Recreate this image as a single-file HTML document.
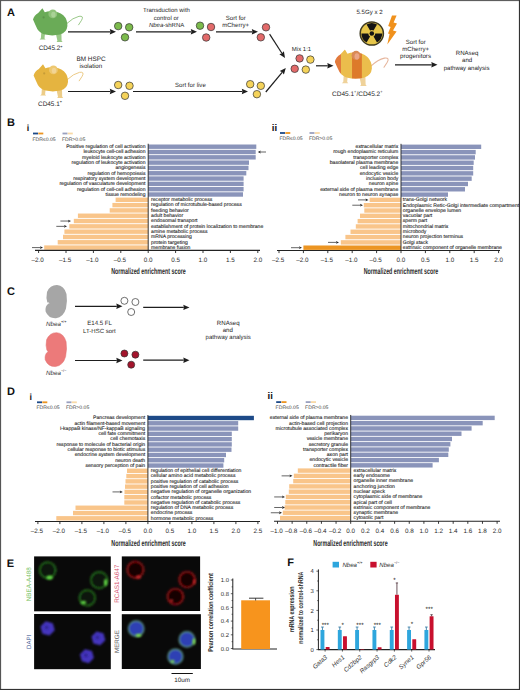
<!DOCTYPE html><html><head><meta charset="utf-8"><style>html,body{margin:0;padding:0;background:#fff;}svg{display:block;text-rendering:geometricPrecision;}</style></head><body><svg width="520" height="690" viewBox="0 0 520 690" font-family='"Liberation Sans", sans-serif'>
<rect x="0" y="0" width="520" height="690" fill="#fff"/>
<text x="7.00" y="16.30" font-size="11" text-anchor="start" fill="#111" font-weight="bold" font-style="normal" >A</text>
<g transform="translate(0,0) scale(1)">
<path d="M66.8,23.5 Q73,17.6 79,16.3 Q84.2,15.6 81.6,20.2 L78.6,24.8" fill="none" stroke="#9bc98a" stroke-width="1.0" stroke-linecap="round"/>
<path d="M41.3,32 L45,33 L44.5,38.4 L45.6,39.5 L39.6,39.5 L40.9,38.3 Z M55.8,33.6 L61.4,33 L61.6,40.8 L62.6,42.1 L56.6,42.1 L57.4,40.8 Z" fill="#99c886"/>
<path d="M33,19.6 Q34.2,15.2 38.2,13 L42.4,8.3 L44.8,12.3 Q48,10.9 51,11.2 Q58.5,11.2 63.3,15.2 Q67.7,19.5 67.4,26 Q66.8,32.6 60,34.6 Q52,36.2 45,34.6 Q40,33.2 37.4,29.2 Q35.4,25.2 33,19.6 Z" fill="#6aab57"/>
<circle cx="52.8" cy="13.9" r="4.4" fill="#8fc27a"/>
<ellipse cx="53.4" cy="14.6" rx="2.2" ry="2.9" fill="#a9d296"/>
<circle cx="43.6" cy="17.4" r="1.1" fill="#000" fill-opacity="0.13"/>
</g>
<g transform="translate(0.6,56) scale(1)">
<path d="M66.8,23.5 Q73,17.6 79,16.3 Q84.2,15.6 81.6,20.2 L78.6,24.8" fill="none" stroke="#ecca85" stroke-width="1.0" stroke-linecap="round"/>
<path d="M41.3,32 L45,33 L44.5,38.4 L45.6,39.5 L39.6,39.5 L40.9,38.3 Z M55.8,33.6 L61.4,33 L61.6,40.8 L62.6,42.1 L56.6,42.1 L57.4,40.8 Z" fill="#edcd88"/>
<path d="M33,19.6 Q34.2,15.2 38.2,13 L42.4,8.3 L44.8,12.3 Q48,10.9 51,11.2 Q58.5,11.2 63.3,15.2 Q67.7,19.5 67.4,26 Q66.8,32.6 60,34.6 Q52,36.2 45,34.6 Q40,33.2 37.4,29.2 Q35.4,25.2 33,19.6 Z" fill="#e5b440"/>
<circle cx="52.8" cy="13.9" r="4.4" fill="#eec870"/>
<ellipse cx="53.4" cy="14.6" rx="2.2" ry="2.9" fill="#f2d494"/>
<circle cx="43.6" cy="17.4" r="1.1" fill="#000" fill-opacity="0.13"/>
</g>
<text x="50.60" y="50.40" font-size="6.4" text-anchor="middle" fill="#2a2a2a" font-weight="normal" font-style="normal" >CD45.2<tspan font-size="3.8" dy="-2.8">+</tspan></text>
<text x="50.00" y="106.20" font-size="6.4" text-anchor="middle" fill="#2a2a2a" font-weight="normal" font-style="normal" >CD45.1<tspan font-size="3.8" dy="-2.8">+</tspan></text>
<text x="91.00" y="60.80" font-size="6.4" text-anchor="middle" fill="#262626" font-weight="normal" font-style="normal" >BM HSPC</text>
<text x="90.80" y="67.60" font-size="6.2" text-anchor="middle" fill="#262626" font-weight="normal" font-style="normal" >isolation</text>
<line x1="68.00" y1="31.80" x2="110.30" y2="31.80" stroke="#1e1e1e" stroke-width="1.2"/>
<polygon points="116.00,31.80 109.80,34.50 110.40,31.80 109.80,29.10" fill="#1e1e1e"/>
<line x1="68.00" y1="91.50" x2="110.30" y2="91.50" stroke="#1e1e1e" stroke-width="1.2"/>
<polygon points="116.00,91.50 109.80,94.20 110.40,91.50 109.80,88.80" fill="#1e1e1e"/>
<circle cx="118.20" cy="26.10" r="3.75" fill="#7cbb4c" stroke="#333" stroke-width="0.7"/>
<circle cx="129.20" cy="27.30" r="3.75" fill="#7cbb4c" stroke="#333" stroke-width="0.7"/>
<circle cx="125.00" cy="37.30" r="3.75" fill="#7cbb4c" stroke="#333" stroke-width="0.7"/>
<circle cx="118.20" cy="85.00" r="3.75" fill="#f5d35a" stroke="#333" stroke-width="0.7"/>
<circle cx="129.50" cy="85.80" r="3.75" fill="#f5d35a" stroke="#333" stroke-width="0.7"/>
<circle cx="125.00" cy="95.80" r="3.75" fill="#f5d35a" stroke="#333" stroke-width="0.7"/>
<text x="166.50" y="12.10" font-size="6" text-anchor="middle" fill="#262626" font-weight="normal" font-style="normal" >Transduction with</text>
<text x="166.30" y="19.60" font-size="6" text-anchor="middle" fill="#262626" font-weight="normal" font-style="normal" >control or</text>
<text x="166.60" y="26.60" font-size="6" text-anchor="middle" fill="#262626" font-weight="normal" font-style="normal" ><tspan font-style="italic">Nbea</tspan>-shRNA</text>
<line x1="136.00" y1="31.80" x2="191.30" y2="31.80" stroke="#1e1e1e" stroke-width="1.2"/>
<polygon points="197.00,31.80 190.80,34.50 191.40,31.80 190.80,29.10" fill="#1e1e1e"/>
<circle cx="200.00" cy="25.70" r="3.75" fill="#7cbb4c" stroke="#333" stroke-width="0.7"/>
<circle cx="211.00" cy="27.00" r="3.75" fill="#e26a6a" stroke="#333" stroke-width="0.7"/>
<circle cx="206.20" cy="37.50" r="3.75" fill="#e26a6a" stroke="#333" stroke-width="0.7"/>
<text x="235.80" y="19.60" font-size="6.1" text-anchor="middle" fill="#262626" font-weight="normal" font-style="normal" >Sort for</text>
<text x="235.60" y="26.60" font-size="6.1" text-anchor="middle" fill="#262626" font-weight="normal" font-style="normal" >mCherry+</text>
<line x1="216.00" y1="31.80" x2="252.30" y2="31.80" stroke="#1e1e1e" stroke-width="1.2"/>
<polygon points="258.00,31.80 251.80,34.50 252.40,31.80 251.80,29.10" fill="#1e1e1e"/>
<text x="190.40" y="86.80" font-size="6.1" text-anchor="middle" fill="#262626" font-weight="normal" font-style="normal" >Sort for live</text>
<line x1="133.00" y1="91.50" x2="242.30" y2="91.50" stroke="#1e1e1e" stroke-width="1.2"/>
<polygon points="248.00,91.50 241.80,94.20 242.40,91.50 241.80,88.80" fill="#1e1e1e"/>
<circle cx="250.20" cy="84.20" r="3.75" fill="#f5d35a" stroke="#333" stroke-width="0.7"/>
<circle cx="260.80" cy="85.80" r="3.75" fill="#f5d35a" stroke="#333" stroke-width="0.7"/>
<circle cx="256.90" cy="94.20" r="3.75" fill="#f5d35a" stroke="#333" stroke-width="0.7"/>
<circle cx="266.00" cy="27.30" r="3.75" fill="#e26a6a" stroke="#333" stroke-width="0.7"/>
<circle cx="260.80" cy="37.30" r="3.75" fill="#e26a6a" stroke="#333" stroke-width="0.7"/>
<line x1="269.60" y1="34.20" x2="281.90" y2="53.21" stroke="#1e1e1e" stroke-width="1.2"/>
<polygon points="285.00,58.00 279.37,54.26 281.96,53.30 283.90,51.33" fill="#1e1e1e"/>
<line x1="265.80" y1="92.00" x2="282.15" y2="72.38" stroke="#1e1e1e" stroke-width="1.2"/>
<polygon points="285.80,68.00 283.91,74.49 282.21,72.30 279.76,71.03" fill="#1e1e1e"/>
<text x="301.50" y="50.90" font-size="6" text-anchor="middle" fill="#262626" font-weight="normal" font-style="normal" >Mix 1:1</text>
<circle cx="299.60" cy="58.40" r="3.75" fill="#e26a6a" stroke="#333" stroke-width="0.7"/>
<circle cx="310.40" cy="59.60" r="3.75" fill="#f5d35a" stroke="#333" stroke-width="0.7"/>
<circle cx="294.70" cy="68.80" r="3.75" fill="#e26a6a" stroke="#333" stroke-width="0.7"/>
<circle cx="305.80" cy="69.60" r="3.75" fill="#f5d35a" stroke="#333" stroke-width="0.7"/>
<line x1="316.00" y1="65.80" x2="327.80" y2="65.80" stroke="#1e1e1e" stroke-width="1.2"/>
<polygon points="333.50,65.80 327.30,68.50 327.90,65.80 327.30,63.10" fill="#1e1e1e"/>
<defs><clipPath id="mc"><path d="M33,19.6 Q34.2,15.2 38.2,13 L42.4,8.3 L44.8,12.3 Q48,10.9 51,11.2 Q58.5,11.2 63.3,15.2 Q67.7,19.5 67.4,26 Q66.8,32.6 60,34.6 Q52,36.2 45,34.6 Q40,33.2 37.4,29.2 Q35.4,25.2 33,19.6 Z"/></clipPath></defs>
<g transform="translate(299.1,40.5) scale(1.08)">
<path d="M66.8,23.5 Q73,17.6 79,16.3 Q84.2,15.6 81.6,20.2 L78.6,24.8" fill="none" stroke="#e6b59c" stroke-width="1.0" stroke-linecap="round"/>
<path d="M41.3,32 L45,33 L44.5,38.4 L45.6,39.5 L39.6,39.5 L40.9,38.3 Z M55.8,33.6 L61.4,33 L61.6,40.8 L62.6,42.1 L56.6,42.1 L57.4,40.8 Z" fill="#efd29a"/>
<g clip-path="url(#mc)">
<rect x="30" y="0" width="9" height="50" fill="#e27a3c"/>
<rect x="38.8" y="0" width="10.4" height="50" fill="#ebbd4c"/>
<rect x="49" y="0" width="9.2" height="50" fill="#dd7a2a"/>
<rect x="58.2" y="0" width="12" height="50" fill="#ebbd4c"/>
</g>
<circle cx="52.8" cy="13.8" r="4.2" fill="#d98a55"/>
<ellipse cx="53.5" cy="14.8" rx="2.2" ry="2.9" fill="#eba585"/>
</g>
<text x="357.30" y="96.10" font-size="6.5" text-anchor="middle" fill="#2a2a2a" font-weight="normal" font-style="normal" >CD45.1<tspan font-size="3.9" dy="-2.9">+</tspan><tspan dy="2.9">/CD45.2</tspan><tspan font-size="3.9" dy="-2.9">+</tspan></text>
<text x="369.50" y="13.70" font-size="6.1" text-anchor="middle" fill="#262626" font-weight="normal" font-style="normal" >5.5Gy x 2</text>
<circle cx="371.8" cy="33.5" r="11.6" fill="#e6c64a" stroke="#3f3b22" stroke-width="1.5"/>
<path d="M370.05,30.47 L366.60,24.49 A10.4,10.4 0 0 1 377.00,24.49 L373.55,30.47 A3.5,3.5 0 0 0 370.05,30.47 Z" fill="#141414"/>
<path d="M375.30,33.50 L382.20,33.50 A10.4,10.4 0 0 1 377.00,42.51 L373.55,36.53 A3.5,3.5 0 0 0 375.30,33.50 Z" fill="#141414"/>
<path d="M370.05,36.53 L366.60,42.51 A10.4,10.4 0 0 1 361.40,33.50 L368.30,33.50 A3.5,3.5 0 0 0 370.05,36.53 Z" fill="#141414"/>
<circle cx="371.8" cy="33.5" r="2.3" fill="#141414"/>
<path d="M392,15.5 L396.6,15.5 L393.6,22.6 L397,23.6 L393,30.4 L396.6,31.4 L387.3,44.6 L389.6,34 L388,33.4 L390.6,27 L388.2,26 Z" fill="#f0911c"/>
<text x="415.70" y="43.70" font-size="6.1" text-anchor="middle" fill="#262626" font-weight="normal" font-style="normal" >Sort for</text>
<text x="415.70" y="51.00" font-size="6.1" text-anchor="middle" fill="#262626" font-weight="normal" font-style="normal" >mCherry+</text>
<text x="415.50" y="58.20" font-size="6.2" text-anchor="middle" fill="#262626" font-weight="normal" font-style="normal" >progenitors</text>
<line x1="395.00" y1="64.80" x2="431.80" y2="64.80" stroke="#1e1e1e" stroke-width="1.2"/>
<polygon points="437.50,64.80 431.30,67.50 431.90,64.80 431.30,62.10" fill="#1e1e1e"/>
<text x="467.10" y="55.20" font-size="6.1" text-anchor="middle" fill="#262626" font-weight="normal" font-style="normal" >RNAseq</text>
<text x="467.10" y="61.90" font-size="6.1" text-anchor="middle" fill="#262626" font-weight="normal" font-style="normal" >and</text>
<text x="466.60" y="69.60" font-size="6.0" text-anchor="middle" fill="#262626" font-weight="normal" font-style="normal" >pathway analysis</text>
<text x="7.00" y="125.90" font-size="11" text-anchor="start" fill="#111" font-weight="bold" font-style="normal" >B</text>
<text x="26.80" y="130.50" font-size="9" text-anchor="start" fill="#111" font-weight="bold" font-style="normal" >i</text>
<text x="271.80" y="130.50" font-size="9.6" text-anchor="start" fill="#111" font-weight="bold" font-style="normal" >ii</text>
<rect x="33" y="132.6" width="5" height="1.8" fill="#1d4a88"/>
<rect x="38.3" y="132.6" width="5" height="1.8" fill="#ec9522"/>
<text x="32.40" y="140.60" font-size="5.1" text-anchor="start" fill="#444" font-weight="normal" font-style="normal" >FDR≤0.05</text>
<rect x="62.5" y="132.6" width="5" height="1.8" fill="#9aa0bf"/>
<rect x="67.8" y="132.6" width="5" height="1.8" fill="#f8d9a7"/>
<text x="61.90" y="140.60" font-size="5.1" text-anchor="start" fill="#444" font-weight="normal" font-style="normal" >FDR&gt;0.05</text>
<rect x="280" y="132.1" width="5" height="1.8" fill="#1d4a88"/>
<rect x="285.3" y="132.1" width="5" height="1.8" fill="#ec9522"/>
<text x="279.40" y="140.10" font-size="5.1" text-anchor="start" fill="#444" font-weight="normal" font-style="normal" >FDR≤0.05</text>
<rect x="309.5" y="132.1" width="5" height="1.8" fill="#9aa0bf"/>
<rect x="314.8" y="132.1" width="5" height="1.8" fill="#f8d9a7"/>
<text x="308.90" y="140.10" font-size="5.1" text-anchor="start" fill="#444" font-weight="normal" font-style="normal" >FDR&gt;0.05</text>
<rect x="148.20" y="144.50" width="108.10" height="4.4" fill="#8a94ba"/>
<text x="145.50" y="148.05" font-size="5.1" text-anchor="end" fill="#1e1e1e" font-weight="normal" font-style="normal" stroke="#1e1e1e" stroke-width="0.1">Positive regulation of cell activation</text>
<rect x="148.20" y="149.81" width="107.50" height="4.4" fill="#8a94ba"/>
<text x="145.50" y="153.36" font-size="5.1" text-anchor="end" fill="#1e1e1e" font-weight="normal" font-style="normal" stroke="#1e1e1e" stroke-width="0.1">leukocyte cell-cell adhesion</text>
<rect x="148.20" y="155.12" width="107.50" height="4.4" fill="#8a94ba"/>
<text x="145.50" y="158.67" font-size="5.1" text-anchor="end" fill="#1e1e1e" font-weight="normal" font-style="normal" stroke="#1e1e1e" stroke-width="0.1">myeloid leukocyte activation</text>
<rect x="148.20" y="160.43" width="100.80" height="4.4" fill="#8a94ba"/>
<text x="145.50" y="163.98" font-size="5.1" text-anchor="end" fill="#1e1e1e" font-weight="normal" font-style="normal" stroke="#1e1e1e" stroke-width="0.1">regulation of leukocyte activation</text>
<rect x="148.20" y="165.74" width="100.30" height="4.4" fill="#8a94ba"/>
<text x="145.50" y="169.29" font-size="5.1" text-anchor="end" fill="#1e1e1e" font-weight="normal" font-style="normal" stroke="#1e1e1e" stroke-width="0.1">angiogenesis</text>
<rect x="148.20" y="171.05" width="98.10" height="4.4" fill="#8a94ba"/>
<text x="145.50" y="174.60" font-size="5.1" text-anchor="end" fill="#1e1e1e" font-weight="normal" font-style="normal" stroke="#1e1e1e" stroke-width="0.1">regulation of hemopoiesis</text>
<rect x="148.20" y="176.36" width="95.40" height="4.4" fill="#8a94ba"/>
<text x="145.50" y="179.91" font-size="5.1" text-anchor="end" fill="#1e1e1e" font-weight="normal" font-style="normal" stroke="#1e1e1e" stroke-width="0.1">respiratory system development</text>
<rect x="148.20" y="181.67" width="95.40" height="4.4" fill="#8a94ba"/>
<text x="145.50" y="185.22" font-size="5.1" text-anchor="end" fill="#1e1e1e" font-weight="normal" font-style="normal" stroke="#1e1e1e" stroke-width="0.1">regulation of vasculature development</text>
<rect x="148.20" y="186.98" width="95.40" height="4.4" fill="#8a94ba"/>
<text x="145.50" y="190.53" font-size="5.1" text-anchor="end" fill="#1e1e1e" font-weight="normal" font-style="normal" stroke="#1e1e1e" stroke-width="0.1">regulation of cell-cell adhesion</text>
<rect x="148.20" y="192.29" width="94.80" height="4.4" fill="#8a94ba"/>
<text x="145.50" y="195.84" font-size="5.1" text-anchor="end" fill="#1e1e1e" font-weight="normal" font-style="normal" stroke="#1e1e1e" stroke-width="0.1">tissue remodeling</text>
<rect x="115.60" y="197.60" width="32.60" height="4.4" fill="#f9c58a"/>
<text x="151.10" y="201.15" font-size="5.1" text-anchor="start" fill="#1e1e1e" font-weight="normal" font-style="normal" stroke="#1e1e1e" stroke-width="0.1">receptor metabolic process</text>
<rect x="112.40" y="202.91" width="35.80" height="4.4" fill="#f9c58a"/>
<text x="151.10" y="206.46" font-size="5.1" text-anchor="start" fill="#1e1e1e" font-weight="normal" font-style="normal" stroke="#1e1e1e" stroke-width="0.1">regulation of microtubule-based process</text>
<rect x="109.70" y="208.22" width="38.50" height="4.4" fill="#f9c58a"/>
<text x="151.10" y="211.77" font-size="5.1" text-anchor="start" fill="#1e1e1e" font-weight="normal" font-style="normal" stroke="#1e1e1e" stroke-width="0.1">feeding behavior</text>
<rect x="77.90" y="213.53" width="70.30" height="4.4" fill="#f9c58a"/>
<text x="151.10" y="217.08" font-size="5.1" text-anchor="start" fill="#1e1e1e" font-weight="normal" font-style="normal" stroke="#1e1e1e" stroke-width="0.1">adult behavior</text>
<rect x="73.80" y="218.84" width="74.40" height="4.4" fill="#f9c58a"/>
<text x="151.10" y="222.39" font-size="5.1" text-anchor="start" fill="#1e1e1e" font-weight="normal" font-style="normal" stroke="#1e1e1e" stroke-width="0.1">endosomal transport</text>
<rect x="69.30" y="224.15" width="78.90" height="4.4" fill="#f9c58a"/>
<text x="151.10" y="227.70" font-size="5.1" text-anchor="start" fill="#1e1e1e" font-weight="normal" font-style="normal" stroke="#1e1e1e" stroke-width="0.1">establishment of protein localization to membrane</text>
<rect x="64.40" y="229.46" width="83.80" height="4.4" fill="#f9c58a"/>
<text x="151.10" y="233.01" font-size="5.1" text-anchor="start" fill="#1e1e1e" font-weight="normal" font-style="normal" stroke="#1e1e1e" stroke-width="0.1">amine metabolic process</text>
<rect x="63.00" y="234.77" width="85.20" height="4.4" fill="#f9c58a"/>
<text x="151.10" y="238.32" font-size="5.1" text-anchor="start" fill="#1e1e1e" font-weight="normal" font-style="normal" stroke="#1e1e1e" stroke-width="0.1">mRNA processing</text>
<rect x="57.70" y="240.08" width="90.50" height="4.4" fill="#f9c58a"/>
<text x="151.10" y="243.63" font-size="5.1" text-anchor="start" fill="#1e1e1e" font-weight="normal" font-style="normal" stroke="#1e1e1e" stroke-width="0.1">protein targeting</text>
<rect x="44.20" y="245.39" width="104.00" height="4.4" fill="#f9c58a"/>
<text x="151.10" y="248.94" font-size="5.1" text-anchor="start" fill="#1e1e1e" font-weight="normal" font-style="normal" stroke="#1e1e1e" stroke-width="0.1">membrane fusion</text>
<line x1="148.2" y1="143.74" x2="148.2" y2="250.4" stroke="#2a2a2a" stroke-width="0.95"/>
<line x1="35" y1="250.4" x2="260" y2="250.4" stroke="#222" stroke-width="1.1"/>
<line x1="38.60" y1="250.4" x2="38.60" y2="253.0" stroke="#222" stroke-width="0.9"/>
<text x="43.80" y="261.70" font-size="6.3" text-anchor="end" fill="#2a2a2a" font-weight="normal" font-style="normal" >–2.0</text>
<line x1="66.00" y1="250.4" x2="66.00" y2="253.0" stroke="#222" stroke-width="0.9"/>
<text x="71.20" y="261.70" font-size="6.3" text-anchor="end" fill="#2a2a2a" font-weight="normal" font-style="normal" >–1.5</text>
<line x1="93.40" y1="250.4" x2="93.40" y2="253.0" stroke="#222" stroke-width="0.9"/>
<text x="98.60" y="261.70" font-size="6.3" text-anchor="end" fill="#2a2a2a" font-weight="normal" font-style="normal" >–1.0</text>
<line x1="120.80" y1="250.4" x2="120.80" y2="253.0" stroke="#222" stroke-width="0.9"/>
<text x="126.00" y="261.70" font-size="6.3" text-anchor="end" fill="#2a2a2a" font-weight="normal" font-style="normal" >–0.5</text>
<line x1="148.20" y1="250.4" x2="148.20" y2="253.0" stroke="#222" stroke-width="0.9"/>
<text x="148.20" y="261.70" font-size="6.3" text-anchor="middle" fill="#2a2a2a" font-weight="normal" font-style="normal" >0.0</text>
<line x1="175.60" y1="250.4" x2="175.60" y2="253.0" stroke="#222" stroke-width="0.9"/>
<text x="175.60" y="261.70" font-size="6.3" text-anchor="middle" fill="#2a2a2a" font-weight="normal" font-style="normal" >0.5</text>
<line x1="203.00" y1="250.4" x2="203.00" y2="253.0" stroke="#222" stroke-width="0.9"/>
<text x="203.00" y="261.70" font-size="6.3" text-anchor="middle" fill="#2a2a2a" font-weight="normal" font-style="normal" >1.0</text>
<line x1="230.40" y1="250.4" x2="230.40" y2="253.0" stroke="#222" stroke-width="0.9"/>
<text x="230.40" y="261.70" font-size="6.3" text-anchor="middle" fill="#2a2a2a" font-weight="normal" font-style="normal" >1.5</text>
<line x1="257.80" y1="250.4" x2="257.80" y2="253.0" stroke="#222" stroke-width="0.9"/>
<text x="257.80" y="261.70" font-size="6.3" text-anchor="middle" fill="#2a2a2a" font-weight="normal" font-style="normal" >2.0</text>
<line x1="60.40" y1="221.04" x2="68.50" y2="221.04" stroke="#222" stroke-width="0.7"/>
<polygon points="71.00,221.04 68.00,222.44 68.60,221.04 68.00,219.64" fill="#222"/>
<line x1="56.30" y1="226.35" x2="64.50" y2="226.35" stroke="#222" stroke-width="0.7"/>
<polygon points="67.00,226.35 64.00,227.75 64.60,226.35 64.00,224.95" fill="#222"/>
<line x1="32.00" y1="247.59" x2="40.50" y2="247.59" stroke="#222" stroke-width="0.7"/>
<polygon points="43.00,247.59 40.00,248.99 40.60,247.59 40.00,246.19" fill="#222"/>
<text x="111.20" y="274.00" font-size="8.6" text-anchor="start" fill="#2a2a2a" font-weight="bold" font-style="normal" textLength="74.5" lengthAdjust="spacingAndGlyphs">Normalized enrichment score</text>
<line x1="266.00" y1="152.00" x2="260.30" y2="152.00" stroke="#222" stroke-width="0.7"/>
<polygon points="257.80,152.00 260.80,150.60 260.20,152.00 260.80,153.40" fill="#222"/>
<rect x="401.00" y="144.60" width="80.20" height="4.4" fill="#8a94ba"/>
<text x="398.30" y="148.15" font-size="5.1" text-anchor="end" fill="#1e1e1e" font-weight="normal" font-style="normal" stroke="#1e1e1e" stroke-width="0.1">extracellular matrix</text>
<rect x="401.00" y="149.91" width="74.70" height="4.4" fill="#8a94ba"/>
<text x="398.30" y="153.46" font-size="5.1" text-anchor="end" fill="#1e1e1e" font-weight="normal" font-style="normal" stroke="#1e1e1e" stroke-width="0.1">rough endoplasmic reticulum</text>
<rect x="401.00" y="155.22" width="74.00" height="4.4" fill="#8a94ba"/>
<text x="398.30" y="158.77" font-size="5.1" text-anchor="end" fill="#1e1e1e" font-weight="normal" font-style="normal" stroke="#1e1e1e" stroke-width="0.1">transporter complex</text>
<rect x="401.00" y="160.53" width="72.70" height="4.4" fill="#8a94ba"/>
<text x="398.30" y="164.08" font-size="5.1" text-anchor="end" fill="#1e1e1e" font-weight="normal" font-style="normal" stroke="#1e1e1e" stroke-width="0.1">basolateral plasma membrane</text>
<rect x="401.00" y="165.84" width="72.20" height="4.4" fill="#8a94ba"/>
<text x="398.30" y="169.39" font-size="5.1" text-anchor="end" fill="#1e1e1e" font-weight="normal" font-style="normal" stroke="#1e1e1e" stroke-width="0.1">cell leading edge</text>
<rect x="401.00" y="171.15" width="72.20" height="4.4" fill="#8a94ba"/>
<text x="398.30" y="174.70" font-size="5.1" text-anchor="end" fill="#1e1e1e" font-weight="normal" font-style="normal" stroke="#1e1e1e" stroke-width="0.1">endocytic vesicle</text>
<rect x="401.00" y="176.46" width="70.70" height="4.4" fill="#8a94ba"/>
<text x="398.30" y="180.01" font-size="5.1" text-anchor="end" fill="#1e1e1e" font-weight="normal" font-style="normal" stroke="#1e1e1e" stroke-width="0.1">inclusion body</text>
<rect x="401.00" y="181.77" width="67.00" height="4.4" fill="#8a94ba"/>
<text x="398.30" y="185.32" font-size="5.1" text-anchor="end" fill="#1e1e1e" font-weight="normal" font-style="normal" stroke="#1e1e1e" stroke-width="0.1">neuron spine</text>
<rect x="401.00" y="187.08" width="64.00" height="4.4" fill="#8a94ba"/>
<text x="398.30" y="190.63" font-size="5.1" text-anchor="end" fill="#1e1e1e" font-weight="normal" font-style="normal" stroke="#1e1e1e" stroke-width="0.1">external side of plasma membrane</text>
<rect x="401.00" y="192.39" width="47.00" height="4.4" fill="#8a94ba"/>
<text x="398.30" y="195.94" font-size="5.1" text-anchor="end" fill="#1e1e1e" font-weight="normal" font-style="normal" stroke="#1e1e1e" stroke-width="0.1">neuron to neuron synapse</text>
<rect x="369.60" y="197.70" width="31.40" height="4.4" fill="#f9c58a"/>
<text x="402.80" y="201.25" font-size="5.1" text-anchor="start" fill="#1e1e1e" font-weight="normal" font-style="normal" stroke="#1e1e1e" stroke-width="0.1">trans-Golgi network</text>
<rect x="363.80" y="203.01" width="37.20" height="4.4" fill="#f9c58a"/>
<text x="402.80" y="206.56" font-size="5.1" text-anchor="start" fill="#1e1e1e" font-weight="normal" font-style="normal" stroke="#1e1e1e" stroke-width="0.1">Endoplasmic Retic-Golgi intermediate compartment</text>
<rect x="364.30" y="208.32" width="36.70" height="4.4" fill="#f9c58a"/>
<text x="402.80" y="211.87" font-size="5.1" text-anchor="start" fill="#1e1e1e" font-weight="normal" font-style="normal" stroke="#1e1e1e" stroke-width="0.1">organelle envelope lumen</text>
<rect x="360.00" y="213.63" width="41.00" height="4.4" fill="#f9c58a"/>
<text x="402.80" y="217.18" font-size="5.1" text-anchor="start" fill="#1e1e1e" font-weight="normal" font-style="normal" stroke="#1e1e1e" stroke-width="0.1">vacuolar part</text>
<rect x="357.60" y="218.94" width="43.40" height="4.4" fill="#f9c58a"/>
<text x="402.80" y="222.49" font-size="5.1" text-anchor="start" fill="#1e1e1e" font-weight="normal" font-style="normal" stroke="#1e1e1e" stroke-width="0.1">sperm part</text>
<rect x="355.80" y="224.25" width="45.20" height="4.4" fill="#f9c58a"/>
<text x="402.80" y="227.80" font-size="5.1" text-anchor="start" fill="#1e1e1e" font-weight="normal" font-style="normal" stroke="#1e1e1e" stroke-width="0.1">mitochondrial matrix</text>
<rect x="350.50" y="229.56" width="50.50" height="4.4" fill="#f9c58a"/>
<text x="402.80" y="233.11" font-size="5.1" text-anchor="start" fill="#1e1e1e" font-weight="normal" font-style="normal" stroke="#1e1e1e" stroke-width="0.1">microbody</text>
<rect x="345.40" y="234.87" width="55.60" height="4.4" fill="#f9c58a"/>
<text x="402.80" y="238.42" font-size="5.1" text-anchor="start" fill="#1e1e1e" font-weight="normal" font-style="normal" stroke="#1e1e1e" stroke-width="0.1">neuron projection terminus</text>
<rect x="340.80" y="240.18" width="60.20" height="4.4" fill="#f9c58a"/>
<text x="402.80" y="243.73" font-size="5.1" text-anchor="start" fill="#1e1e1e" font-weight="normal" font-style="normal" stroke="#1e1e1e" stroke-width="0.1">Golgi stack</text>
<rect x="303.40" y="245.49" width="97.60" height="4.4" fill="#ec9522"/>
<text x="402.80" y="249.04" font-size="5.1" text-anchor="start" fill="#1e1e1e" font-weight="normal" font-style="normal" stroke="#1e1e1e" stroke-width="0.1">extrinsic component of organelle membrane</text>
<line x1="401.0" y1="143.84" x2="401.0" y2="250.5" stroke="#2a2a2a" stroke-width="0.95"/>
<line x1="277" y1="250.5" x2="500" y2="250.5" stroke="#222" stroke-width="1.1"/>
<line x1="279.00" y1="250.5" x2="279.00" y2="253.1" stroke="#222" stroke-width="0.9"/>
<text x="284.20" y="261.70" font-size="6.3" text-anchor="end" fill="#2a2a2a" font-weight="normal" font-style="normal" >–2.5</text>
<line x1="303.40" y1="250.5" x2="303.40" y2="253.1" stroke="#222" stroke-width="0.9"/>
<text x="308.60" y="261.70" font-size="6.3" text-anchor="end" fill="#2a2a2a" font-weight="normal" font-style="normal" >–2.0</text>
<line x1="327.80" y1="250.5" x2="327.80" y2="253.1" stroke="#222" stroke-width="0.9"/>
<text x="333.00" y="261.70" font-size="6.3" text-anchor="end" fill="#2a2a2a" font-weight="normal" font-style="normal" >–1.5</text>
<line x1="352.20" y1="250.5" x2="352.20" y2="253.1" stroke="#222" stroke-width="0.9"/>
<text x="357.40" y="261.70" font-size="6.3" text-anchor="end" fill="#2a2a2a" font-weight="normal" font-style="normal" >–1.0</text>
<line x1="376.60" y1="250.5" x2="376.60" y2="253.1" stroke="#222" stroke-width="0.9"/>
<text x="381.80" y="261.70" font-size="6.3" text-anchor="end" fill="#2a2a2a" font-weight="normal" font-style="normal" >–0.5</text>
<line x1="401.00" y1="250.5" x2="401.00" y2="253.1" stroke="#222" stroke-width="0.9"/>
<text x="401.00" y="261.70" font-size="6.3" text-anchor="middle" fill="#2a2a2a" font-weight="normal" font-style="normal" >0.0</text>
<line x1="425.40" y1="250.5" x2="425.40" y2="253.1" stroke="#222" stroke-width="0.9"/>
<text x="425.40" y="261.70" font-size="6.3" text-anchor="middle" fill="#2a2a2a" font-weight="normal" font-style="normal" >0.5</text>
<line x1="449.80" y1="250.5" x2="449.80" y2="253.1" stroke="#222" stroke-width="0.9"/>
<text x="449.80" y="261.70" font-size="6.3" text-anchor="middle" fill="#2a2a2a" font-weight="normal" font-style="normal" >1.0</text>
<line x1="474.20" y1="250.5" x2="474.20" y2="253.1" stroke="#222" stroke-width="0.9"/>
<text x="474.20" y="261.70" font-size="6.3" text-anchor="middle" fill="#2a2a2a" font-weight="normal" font-style="normal" >1.5</text>
<line x1="498.60" y1="250.5" x2="498.60" y2="253.1" stroke="#222" stroke-width="0.9"/>
<text x="498.60" y="261.70" font-size="6.3" text-anchor="middle" fill="#2a2a2a" font-weight="normal" font-style="normal" >2.0</text>
<line x1="358.00" y1="199.90" x2="366.00" y2="199.90" stroke="#222" stroke-width="0.7"/>
<polygon points="368.50,199.90 365.50,201.30 366.10,199.90 365.50,198.50" fill="#222"/>
<line x1="352.30" y1="205.21" x2="360.50" y2="205.21" stroke="#222" stroke-width="0.7"/>
<polygon points="363.00,205.21 360.00,206.61 360.60,205.21 360.00,203.81" fill="#222"/>
<line x1="328.00" y1="242.38" x2="336.50" y2="242.38" stroke="#222" stroke-width="0.7"/>
<polygon points="339.00,242.38 336.00,243.78 336.60,242.38 336.00,240.98" fill="#222"/>
<line x1="291.00" y1="247.69" x2="299.50" y2="247.69" stroke="#222" stroke-width="0.7"/>
<polygon points="302.00,247.69 299.00,249.09 299.60,247.69 299.00,246.29" fill="#222"/>
<text x="363.70" y="274.00" font-size="8.6" text-anchor="start" fill="#2a2a2a" font-weight="bold" font-style="normal" textLength="74.5" lengthAdjust="spacingAndGlyphs">Normalized enrichment score</text>
<text x="7.00" y="295.00" font-size="11" text-anchor="start" fill="#111" font-weight="bold" font-style="normal" >C</text>
<path d="M47,292 Q50,285 57,285.1 Q64,285.5 66.5,294 Q67.6,301 66,308.5 Q63.5,317.3 56,318.2 Q48.5,318.6 45.6,311.5 Q44.8,306 48.6,303.4 L47.3,302.3 Q45.8,298 47,292 Z" fill="#a6a6a6"/>
<path d="M47.8,302.6 L49.2,303.3" stroke="#fff" stroke-width="0.9"/>
<g transform="translate(-0.4,40.7) scale(1.0,1.024)"><path d="M47,292 Q50,285 57,285.1 Q64,285.5 66.5,294 Q67.6,301 66,308.5 Q63.5,317.3 56,318.2 Q48.5,318.6 45.6,311.5 Q44.8,306 48.6,303.4 L47.3,302.3 Q45.8,298 47,292 Z" fill="#ec7a7a" stroke="#e26c6c" stroke-width="0.5"/></g>
<text x="46.10" y="325.80" font-size="6.2" text-anchor="start" fill="#333" font-weight="normal" font-style="normal" ><tspan font-style="italic">Nbea</tspan><tspan font-size="3.8" dy="-3">+/+</tspan></text>
<text x="46.10" y="374.80" font-size="6.2" text-anchor="start" fill="#333" font-weight="normal" font-style="normal" ><tspan font-style="italic">Nbea</tspan><tspan font-size="3.8" dy="-3">−/−</tspan></text>
<line x1="75.00" y1="306.30" x2="116.80" y2="306.30" stroke="#1e1e1e" stroke-width="1.2"/>
<polygon points="122.50,306.30 116.30,309.00 116.90,306.30 116.30,303.60" fill="#1e1e1e"/>
<line x1="75.00" y1="360.50" x2="116.80" y2="360.50" stroke="#1e1e1e" stroke-width="1.2"/>
<polygon points="122.50,360.50 116.30,363.20 116.90,360.50 116.30,357.80" fill="#1e1e1e"/>
<text x="99.60" y="325.30" font-size="6.1" text-anchor="middle" fill="#262626" font-weight="normal" font-style="normal" >E14.5 FL</text>
<text x="99.40" y="332.50" font-size="6.0" text-anchor="middle" fill="#262626" font-weight="normal" font-style="normal" >LT-HSC sort</text>
<circle cx="124.40" cy="300.80" r="3.5" fill="#fff" stroke="#333" stroke-width="0.7"/>
<circle cx="135.40" cy="302.00" r="3.5" fill="#fff" stroke="#333" stroke-width="0.7"/>
<circle cx="131.20" cy="312.00" r="3.5" fill="#fff" stroke="#333" stroke-width="0.7"/>
<circle cx="124.40" cy="353.50" r="3.5" fill="#a3142c" stroke="#333" stroke-width="0.7"/>
<circle cx="135.40" cy="354.70" r="3.5" fill="#a3142c" stroke="#333" stroke-width="0.7"/>
<circle cx="131.20" cy="364.70" r="3.5" fill="#a3142c" stroke="#333" stroke-width="0.7"/>
<line x1="143.20" y1="307.40" x2="183.80" y2="307.40" stroke="#1e1e1e" stroke-width="1.2"/>
<polygon points="189.50,307.40 183.30,310.10 183.90,307.40 183.30,304.70" fill="#1e1e1e"/>
<line x1="143.20" y1="360.20" x2="183.80" y2="360.20" stroke="#1e1e1e" stroke-width="1.2"/>
<polygon points="189.50,360.20 183.30,362.90 183.90,360.20 183.30,357.50" fill="#1e1e1e"/>
<text x="228.20" y="325.20" font-size="6.1" text-anchor="middle" fill="#262626" font-weight="normal" font-style="normal" >RNAseq</text>
<text x="227.80" y="332.20" font-size="6.1" text-anchor="middle" fill="#262626" font-weight="normal" font-style="normal" >and</text>
<text x="228.20" y="338.90" font-size="5.95" text-anchor="middle" fill="#262626" font-weight="normal" font-style="normal" >pathway analysis</text>
<text x="7.00" y="395.30" font-size="11" text-anchor="start" fill="#111" font-weight="bold" font-style="normal" >D</text>
<text x="29.60" y="399.50" font-size="9" text-anchor="start" fill="#111" font-weight="bold" font-style="normal" >i</text>
<text x="267.60" y="399.30" font-size="9.6" text-anchor="start" fill="#111" font-weight="bold" font-style="normal" >ii</text>
<rect x="37" y="401.4" width="5" height="1.8" fill="#1d4a88"/>
<rect x="42.3" y="401.4" width="5" height="1.8" fill="#ec9522"/>
<text x="36.40" y="409.40" font-size="5.1" text-anchor="start" fill="#444" font-weight="normal" font-style="normal" >FDR≤0.05</text>
<rect x="66.5" y="401.4" width="5" height="1.8" fill="#9aa0bf"/>
<rect x="71.8" y="401.4" width="5" height="1.8" fill="#f8d9a7"/>
<text x="65.90" y="409.40" font-size="5.1" text-anchor="start" fill="#444" font-weight="normal" font-style="normal" >FDR&gt;0.05</text>
<rect x="276.2" y="401.2" width="5" height="1.8" fill="#1d4a88"/>
<rect x="281.5" y="401.2" width="5" height="1.8" fill="#ec9522"/>
<text x="275.60" y="409.20" font-size="5.1" text-anchor="start" fill="#444" font-weight="normal" font-style="normal" >FDR≤0.05</text>
<rect x="305.7" y="401.2" width="5" height="1.8" fill="#9aa0bf"/>
<rect x="311.0" y="401.2" width="5" height="1.8" fill="#f8d9a7"/>
<text x="305.10" y="409.20" font-size="5.1" text-anchor="start" fill="#444" font-weight="normal" font-style="normal" >FDR&gt;0.05</text>
<rect x="147.90" y="415.80" width="106.00" height="4.4" fill="#1d4a88"/>
<text x="145.20" y="419.35" font-size="5.1" text-anchor="end" fill="#1e1e1e" font-weight="normal" font-style="normal" stroke="#1e1e1e" stroke-width="0.1">Pancreas development</text>
<rect x="147.90" y="421.08" width="90.30" height="4.4" fill="#8a94ba"/>
<text x="145.20" y="424.63" font-size="5.1" text-anchor="end" fill="#1e1e1e" font-weight="normal" font-style="normal" stroke="#1e1e1e" stroke-width="0.1">actin filament-based movement</text>
<rect x="147.90" y="426.36" width="90.30" height="4.4" fill="#8a94ba"/>
<text x="145.20" y="429.91" font-size="5.1" text-anchor="end" fill="#1e1e1e" font-weight="normal" font-style="normal" stroke="#1e1e1e" stroke-width="0.1">I-kappaB kinase/NF-kappaB signaling</text>
<rect x="147.90" y="431.64" width="83.90" height="4.4" fill="#8a94ba"/>
<text x="145.20" y="435.19" font-size="5.1" text-anchor="end" fill="#1e1e1e" font-weight="normal" font-style="normal" stroke="#1e1e1e" stroke-width="0.1">cell fate commitment</text>
<rect x="147.90" y="436.92" width="83.90" height="4.4" fill="#8a94ba"/>
<text x="145.20" y="440.47" font-size="5.1" text-anchor="end" fill="#1e1e1e" font-weight="normal" font-style="normal" stroke="#1e1e1e" stroke-width="0.1">cell chemotaxis</text>
<rect x="147.90" y="442.20" width="83.90" height="4.4" fill="#8a94ba"/>
<text x="145.20" y="445.75" font-size="5.1" text-anchor="end" fill="#1e1e1e" font-weight="normal" font-style="normal" stroke="#1e1e1e" stroke-width="0.1">response to molecule of bacterial origin</text>
<rect x="147.90" y="447.48" width="83.60" height="4.4" fill="#8a94ba"/>
<text x="145.20" y="451.03" font-size="5.1" text-anchor="end" fill="#1e1e1e" font-weight="normal" font-style="normal" stroke="#1e1e1e" stroke-width="0.1">cellular response to biotic stimulus</text>
<rect x="147.90" y="452.76" width="78.10" height="4.4" fill="#8a94ba"/>
<text x="145.20" y="456.31" font-size="5.1" text-anchor="end" fill="#1e1e1e" font-weight="normal" font-style="normal" stroke="#1e1e1e" stroke-width="0.1">endocrine system development</text>
<rect x="147.90" y="458.04" width="76.30" height="4.4" fill="#8a94ba"/>
<text x="145.20" y="461.59" font-size="5.1" text-anchor="end" fill="#1e1e1e" font-weight="normal" font-style="normal" stroke="#1e1e1e" stroke-width="0.1">neuron death</text>
<rect x="147.90" y="463.32" width="75.50" height="4.4" fill="#8a94ba"/>
<text x="145.20" y="466.87" font-size="5.1" text-anchor="end" fill="#1e1e1e" font-weight="normal" font-style="normal" stroke="#1e1e1e" stroke-width="0.1">sensory perception of pain</text>
<rect x="127.00" y="468.60" width="20.90" height="4.4" fill="#f9c58a"/>
<text x="150.80" y="472.15" font-size="5.1" text-anchor="start" fill="#1e1e1e" font-weight="normal" font-style="normal" stroke="#1e1e1e" stroke-width="0.1">regulation of epithelial cell differentiation</text>
<rect x="126.30" y="473.88" width="21.60" height="4.4" fill="#f9c58a"/>
<text x="150.80" y="477.43" font-size="5.1" text-anchor="start" fill="#1e1e1e" font-weight="normal" font-style="normal" stroke="#1e1e1e" stroke-width="0.1">cellular amino acid metabolic process</text>
<rect x="125.50" y="479.16" width="22.40" height="4.4" fill="#f9c58a"/>
<text x="150.80" y="482.71" font-size="5.1" text-anchor="start" fill="#1e1e1e" font-weight="normal" font-style="normal" stroke="#1e1e1e" stroke-width="0.1">positive regulation of catabolic process</text>
<rect x="125.00" y="484.44" width="22.90" height="4.4" fill="#f9c58a"/>
<text x="150.80" y="487.99" font-size="5.1" text-anchor="start" fill="#1e1e1e" font-weight="normal" font-style="normal" stroke="#1e1e1e" stroke-width="0.1">positive regulation of cell adhesion</text>
<rect x="124.50" y="489.72" width="23.40" height="4.4" fill="#f9c58a"/>
<text x="150.80" y="493.27" font-size="5.1" text-anchor="start" fill="#1e1e1e" font-weight="normal" font-style="normal" stroke="#1e1e1e" stroke-width="0.1">negative regulation of organelle organization</text>
<rect x="124.30" y="495.00" width="23.60" height="4.4" fill="#f9c58a"/>
<text x="150.80" y="498.55" font-size="5.1" text-anchor="start" fill="#1e1e1e" font-weight="normal" font-style="normal" stroke="#1e1e1e" stroke-width="0.1">cofactor metabolic process</text>
<rect x="124.30" y="500.28" width="23.60" height="4.4" fill="#f9c58a"/>
<text x="150.80" y="503.83" font-size="5.1" text-anchor="start" fill="#1e1e1e" font-weight="normal" font-style="normal" stroke="#1e1e1e" stroke-width="0.1">negative regulation of catabolic process</text>
<rect x="75.50" y="505.56" width="72.40" height="4.4" fill="#f9c58a"/>
<text x="150.80" y="509.11" font-size="5.1" text-anchor="start" fill="#1e1e1e" font-weight="normal" font-style="normal" stroke="#1e1e1e" stroke-width="0.1">regulation of DNA metabolic process</text>
<rect x="73.00" y="510.84" width="74.90" height="4.4" fill="#f9c58a"/>
<text x="150.80" y="514.39" font-size="5.1" text-anchor="start" fill="#1e1e1e" font-weight="normal" font-style="normal" stroke="#1e1e1e" stroke-width="0.1">endocrine process</text>
<rect x="56.30" y="516.12" width="91.60" height="4.4" fill="#f9c58a"/>
<text x="150.80" y="519.67" font-size="5.1" text-anchor="start" fill="#1e1e1e" font-weight="normal" font-style="normal" stroke="#1e1e1e" stroke-width="0.1">hormone metabolic process</text>
<line x1="147.9" y1="415.06" x2="147.9" y2="521.5" stroke="#2a2a2a" stroke-width="0.95"/>
<line x1="35" y1="521.5" x2="260" y2="521.5" stroke="#222" stroke-width="1.1"/>
<line x1="37.90" y1="521.5" x2="37.90" y2="524.1" stroke="#222" stroke-width="0.9"/>
<text x="43.10" y="533.00" font-size="6.3" text-anchor="end" fill="#2a2a2a" font-weight="normal" font-style="normal" >–2.5</text>
<line x1="59.90" y1="521.5" x2="59.90" y2="524.1" stroke="#222" stroke-width="0.9"/>
<text x="65.10" y="533.00" font-size="6.3" text-anchor="end" fill="#2a2a2a" font-weight="normal" font-style="normal" >–2.0</text>
<line x1="81.90" y1="521.5" x2="81.90" y2="524.1" stroke="#222" stroke-width="0.9"/>
<text x="87.10" y="533.00" font-size="6.3" text-anchor="end" fill="#2a2a2a" font-weight="normal" font-style="normal" >–1.5</text>
<line x1="103.90" y1="521.5" x2="103.90" y2="524.1" stroke="#222" stroke-width="0.9"/>
<text x="109.10" y="533.00" font-size="6.3" text-anchor="end" fill="#2a2a2a" font-weight="normal" font-style="normal" >–1.0</text>
<line x1="125.90" y1="521.5" x2="125.90" y2="524.1" stroke="#222" stroke-width="0.9"/>
<text x="131.10" y="533.00" font-size="6.3" text-anchor="end" fill="#2a2a2a" font-weight="normal" font-style="normal" >–0.5</text>
<line x1="147.90" y1="521.5" x2="147.90" y2="524.1" stroke="#222" stroke-width="0.9"/>
<text x="147.90" y="533.00" font-size="6.3" text-anchor="middle" fill="#2a2a2a" font-weight="normal" font-style="normal" >0.0</text>
<line x1="169.90" y1="521.5" x2="169.90" y2="524.1" stroke="#222" stroke-width="0.9"/>
<text x="169.90" y="533.00" font-size="6.3" text-anchor="middle" fill="#2a2a2a" font-weight="normal" font-style="normal" >0.5</text>
<line x1="191.90" y1="521.5" x2="191.90" y2="524.1" stroke="#222" stroke-width="0.9"/>
<text x="191.90" y="533.00" font-size="6.3" text-anchor="middle" fill="#2a2a2a" font-weight="normal" font-style="normal" >1.0</text>
<line x1="213.90" y1="521.5" x2="213.90" y2="524.1" stroke="#222" stroke-width="0.9"/>
<text x="213.90" y="533.00" font-size="6.3" text-anchor="middle" fill="#2a2a2a" font-weight="normal" font-style="normal" >1.5</text>
<line x1="235.90" y1="521.5" x2="235.90" y2="524.1" stroke="#222" stroke-width="0.9"/>
<text x="235.90" y="533.00" font-size="6.3" text-anchor="middle" fill="#2a2a2a" font-weight="normal" font-style="normal" >2.0</text>
<line x1="257.90" y1="521.5" x2="257.90" y2="524.1" stroke="#222" stroke-width="0.9"/>
<text x="257.90" y="533.00" font-size="6.3" text-anchor="middle" fill="#2a2a2a" font-weight="normal" font-style="normal" >2.5</text>
<line x1="112.50" y1="491.92" x2="120.30" y2="491.92" stroke="#222" stroke-width="0.7"/>
<polygon points="122.80,491.92 119.80,493.32 120.40,491.92 119.80,490.52" fill="#222"/>
<text x="111.30" y="545.50" font-size="8.6" text-anchor="start" fill="#2a2a2a" font-weight="bold" font-style="normal" textLength="74.5" lengthAdjust="spacingAndGlyphs">Normalized enrichment score</text>
<rect x="350.70" y="415.70" width="144.00" height="4.4" fill="#8a94ba"/>
<text x="348.00" y="419.25" font-size="5.1" text-anchor="end" fill="#1e1e1e" font-weight="normal" font-style="normal" stroke="#1e1e1e" stroke-width="0.1">external side of plasma membrane</text>
<rect x="350.70" y="420.97" width="132.00" height="4.4" fill="#8a94ba"/>
<text x="348.00" y="424.52" font-size="5.1" text-anchor="end" fill="#1e1e1e" font-weight="normal" font-style="normal" stroke="#1e1e1e" stroke-width="0.1">actin-based cell projection</text>
<rect x="350.70" y="426.24" width="120.90" height="4.4" fill="#8a94ba"/>
<text x="348.00" y="429.79" font-size="5.1" text-anchor="end" fill="#1e1e1e" font-weight="normal" font-style="normal" stroke="#1e1e1e" stroke-width="0.1">microtubule associated complex</text>
<rect x="350.70" y="431.51" width="110.80" height="4.4" fill="#8a94ba"/>
<text x="348.00" y="435.06" font-size="5.1" text-anchor="end" fill="#1e1e1e" font-weight="normal" font-style="normal" stroke="#1e1e1e" stroke-width="0.1">perikaryon</text>
<rect x="350.70" y="436.78" width="101.30" height="4.4" fill="#8a94ba"/>
<text x="348.00" y="440.33" font-size="5.1" text-anchor="end" fill="#1e1e1e" font-weight="normal" font-style="normal" stroke="#1e1e1e" stroke-width="0.1">vesicle membrane</text>
<rect x="350.70" y="442.05" width="99.70" height="4.4" fill="#8a94ba"/>
<text x="348.00" y="445.60" font-size="5.1" text-anchor="end" fill="#1e1e1e" font-weight="normal" font-style="normal" stroke="#1e1e1e" stroke-width="0.1">secretory granule</text>
<rect x="350.70" y="447.32" width="98.10" height="4.4" fill="#8a94ba"/>
<text x="348.00" y="450.87" font-size="5.1" text-anchor="end" fill="#1e1e1e" font-weight="normal" font-style="normal" stroke="#1e1e1e" stroke-width="0.1">transporter complex</text>
<rect x="350.70" y="452.59" width="97.60" height="4.4" fill="#8a94ba"/>
<text x="348.00" y="456.14" font-size="5.1" text-anchor="end" fill="#1e1e1e" font-weight="normal" font-style="normal" stroke="#1e1e1e" stroke-width="0.1">axon part</text>
<rect x="350.70" y="457.86" width="88.20" height="4.4" fill="#8a94ba"/>
<text x="348.00" y="461.41" font-size="5.1" text-anchor="end" fill="#1e1e1e" font-weight="normal" font-style="normal" stroke="#1e1e1e" stroke-width="0.1">endocytic vesicle</text>
<rect x="350.70" y="463.13" width="81.90" height="4.4" fill="#8a94ba"/>
<text x="348.00" y="466.68" font-size="5.1" text-anchor="end" fill="#1e1e1e" font-weight="normal" font-style="normal" stroke="#1e1e1e" stroke-width="0.1">contractile fiber</text>
<rect x="297.80" y="468.40" width="52.90" height="4.4" fill="#f9c58a"/>
<text x="353.60" y="471.95" font-size="5.1" text-anchor="start" fill="#1e1e1e" font-weight="normal" font-style="normal" stroke="#1e1e1e" stroke-width="0.1">extracellular matrix</text>
<rect x="293.80" y="473.67" width="56.90" height="4.4" fill="#f9c58a"/>
<text x="353.60" y="477.22" font-size="5.1" text-anchor="start" fill="#1e1e1e" font-weight="normal" font-style="normal" stroke="#1e1e1e" stroke-width="0.1">early endosome</text>
<rect x="293.20" y="478.94" width="57.50" height="4.4" fill="#f9c58a"/>
<text x="353.60" y="482.49" font-size="5.1" text-anchor="start" fill="#1e1e1e" font-weight="normal" font-style="normal" stroke="#1e1e1e" stroke-width="0.1">organelle inner membrane</text>
<rect x="289.20" y="484.21" width="61.50" height="4.4" fill="#f9c58a"/>
<text x="353.60" y="487.76" font-size="5.1" text-anchor="start" fill="#1e1e1e" font-weight="normal" font-style="normal" stroke="#1e1e1e" stroke-width="0.1">anchoring junction</text>
<rect x="288.80" y="489.48" width="61.90" height="4.4" fill="#f9c58a"/>
<text x="353.60" y="493.03" font-size="5.1" text-anchor="start" fill="#1e1e1e" font-weight="normal" font-style="normal" stroke="#1e1e1e" stroke-width="0.1">nuclear speck</text>
<rect x="285.80" y="494.75" width="64.90" height="4.4" fill="#f9c58a"/>
<text x="353.60" y="498.30" font-size="5.1" text-anchor="start" fill="#1e1e1e" font-weight="normal" font-style="normal" stroke="#1e1e1e" stroke-width="0.1">cytoplasmic side of membrane</text>
<rect x="285.30" y="500.02" width="65.40" height="4.4" fill="#f9c58a"/>
<text x="353.60" y="503.57" font-size="5.1" text-anchor="start" fill="#1e1e1e" font-weight="normal" font-style="normal" stroke="#1e1e1e" stroke-width="0.1">apical part of cell</text>
<rect x="284.60" y="505.29" width="66.10" height="4.4" fill="#f9c58a"/>
<text x="353.60" y="508.84" font-size="5.1" text-anchor="start" fill="#1e1e1e" font-weight="normal" font-style="normal" stroke="#1e1e1e" stroke-width="0.1">extrinsic component of membrane</text>
<rect x="282.80" y="510.56" width="67.90" height="4.4" fill="#f9c58a"/>
<text x="353.60" y="514.11" font-size="5.1" text-anchor="start" fill="#1e1e1e" font-weight="normal" font-style="normal" stroke="#1e1e1e" stroke-width="0.1">synaptic membrane</text>
<rect x="280.00" y="515.83" width="70.70" height="4.4" fill="#f9c58a"/>
<text x="353.60" y="519.38" font-size="5.1" text-anchor="start" fill="#1e1e1e" font-weight="normal" font-style="normal" stroke="#1e1e1e" stroke-width="0.1">cytosolic part</text>
<line x1="350.7" y1="414.96" x2="350.7" y2="521.2" stroke="#2a2a2a" stroke-width="0.95"/>
<line x1="274" y1="521.2" x2="500" y2="521.2" stroke="#222" stroke-width="1.1"/>
<line x1="277.50" y1="521.2" x2="277.50" y2="523.8000000000001" stroke="#222" stroke-width="0.9"/>
<text x="282.70" y="533.00" font-size="6.3" text-anchor="end" fill="#2a2a2a" font-weight="normal" font-style="normal" >–1.0</text>
<line x1="292.14" y1="521.2" x2="292.14" y2="523.8000000000001" stroke="#222" stroke-width="0.9"/>
<text x="297.34" y="533.00" font-size="6.3" text-anchor="end" fill="#2a2a2a" font-weight="normal" font-style="normal" >–0.8</text>
<line x1="306.78" y1="521.2" x2="306.78" y2="523.8000000000001" stroke="#222" stroke-width="0.9"/>
<text x="311.98" y="533.00" font-size="6.3" text-anchor="end" fill="#2a2a2a" font-weight="normal" font-style="normal" >–0.6</text>
<line x1="321.42" y1="521.2" x2="321.42" y2="523.8000000000001" stroke="#222" stroke-width="0.9"/>
<text x="326.62" y="533.00" font-size="6.3" text-anchor="end" fill="#2a2a2a" font-weight="normal" font-style="normal" >–0.4</text>
<line x1="336.06" y1="521.2" x2="336.06" y2="523.8000000000001" stroke="#222" stroke-width="0.9"/>
<text x="341.26" y="533.00" font-size="6.3" text-anchor="end" fill="#2a2a2a" font-weight="normal" font-style="normal" >–0.2</text>
<line x1="350.70" y1="521.2" x2="350.70" y2="523.8000000000001" stroke="#222" stroke-width="0.9"/>
<text x="350.70" y="533.00" font-size="6.3" text-anchor="middle" fill="#2a2a2a" font-weight="normal" font-style="normal" >0.0</text>
<line x1="365.34" y1="521.2" x2="365.34" y2="523.8000000000001" stroke="#222" stroke-width="0.9"/>
<text x="365.34" y="533.00" font-size="6.3" text-anchor="middle" fill="#2a2a2a" font-weight="normal" font-style="normal" >0.2</text>
<line x1="379.98" y1="521.2" x2="379.98" y2="523.8000000000001" stroke="#222" stroke-width="0.9"/>
<text x="379.98" y="533.00" font-size="6.3" text-anchor="middle" fill="#2a2a2a" font-weight="normal" font-style="normal" >0.4</text>
<line x1="394.62" y1="521.2" x2="394.62" y2="523.8000000000001" stroke="#222" stroke-width="0.9"/>
<text x="394.62" y="533.00" font-size="6.3" text-anchor="middle" fill="#2a2a2a" font-weight="normal" font-style="normal" >0.6</text>
<line x1="409.26" y1="521.2" x2="409.26" y2="523.8000000000001" stroke="#222" stroke-width="0.9"/>
<text x="409.26" y="533.00" font-size="6.3" text-anchor="middle" fill="#2a2a2a" font-weight="normal" font-style="normal" >0.8</text>
<line x1="423.90" y1="521.2" x2="423.90" y2="523.8000000000001" stroke="#222" stroke-width="0.9"/>
<text x="423.90" y="533.00" font-size="6.3" text-anchor="middle" fill="#2a2a2a" font-weight="normal" font-style="normal" >1.0</text>
<line x1="438.54" y1="521.2" x2="438.54" y2="523.8000000000001" stroke="#222" stroke-width="0.9"/>
<text x="438.54" y="533.00" font-size="6.3" text-anchor="middle" fill="#2a2a2a" font-weight="normal" font-style="normal" >1.2</text>
<line x1="453.18" y1="521.2" x2="453.18" y2="523.8000000000001" stroke="#222" stroke-width="0.9"/>
<text x="453.18" y="533.00" font-size="6.3" text-anchor="middle" fill="#2a2a2a" font-weight="normal" font-style="normal" >1.4</text>
<line x1="467.82" y1="521.2" x2="467.82" y2="523.8000000000001" stroke="#222" stroke-width="0.9"/>
<text x="467.82" y="533.00" font-size="6.3" text-anchor="middle" fill="#2a2a2a" font-weight="normal" font-style="normal" >1.6</text>
<line x1="482.46" y1="521.2" x2="482.46" y2="523.8000000000001" stroke="#222" stroke-width="0.9"/>
<text x="482.46" y="533.00" font-size="6.3" text-anchor="middle" fill="#2a2a2a" font-weight="normal" font-style="normal" >1.8</text>
<line x1="497.10" y1="521.2" x2="497.10" y2="523.8000000000001" stroke="#222" stroke-width="0.9"/>
<text x="497.10" y="533.00" font-size="6.3" text-anchor="middle" fill="#2a2a2a" font-weight="normal" font-style="normal" >2.0</text>
<line x1="281.60" y1="475.87" x2="290.00" y2="475.87" stroke="#222" stroke-width="0.7"/>
<polygon points="292.50,475.87 289.50,477.27 290.10,475.87 289.50,474.47" fill="#222"/>
<line x1="274.20" y1="496.95" x2="282.50" y2="496.95" stroke="#222" stroke-width="0.7"/>
<polygon points="285.00,496.95 282.00,498.35 282.60,496.95 282.00,495.55" fill="#222"/>
<line x1="274.20" y1="507.49" x2="282.50" y2="507.49" stroke="#222" stroke-width="0.7"/>
<polygon points="285.00,507.49 282.00,508.89 282.60,507.49 282.00,506.09" fill="#222"/>
<line x1="270.80" y1="512.76" x2="279.50" y2="512.76" stroke="#222" stroke-width="0.7"/>
<polygon points="282.00,512.76 279.00,514.16 279.60,512.76 279.00,511.36" fill="#222"/>
<text x="313.30" y="545.80" font-size="8.6" text-anchor="start" fill="#2a2a2a" font-weight="bold" font-style="normal" textLength="74.3" lengthAdjust="spacingAndGlyphs">Normalized enrichment score</text>
<text x="6.80" y="566.50" font-size="11" text-anchor="start" fill="#111" font-weight="bold" font-style="normal" >E</text>
<defs>
<filter id="bl1" x="-50%" y="-50%" width="200%" height="200%"><feGaussianBlur stdDeviation="1.0"/></filter>
<filter id="bl2" x="-50%" y="-50%" width="200%" height="200%"><feGaussianBlur stdDeviation="1.1"/></filter>
</defs>
<rect x="34.1" y="556.4" width="76.70" height="54.90" fill="#090909"/>
<rect x="121.8" y="556.4" width="78.30" height="54.60" fill="#090909"/>
<rect x="34.1" y="614.0" width="76.70" height="55.20" fill="#090909"/>
<rect x="121.8" y="614.2" width="79.10" height="54.80" fill="#090909"/>
<circle cx="47.6" cy="570.1" r="8.1" fill="#0b180a" stroke="#2f8a26" stroke-width="1.4" stroke-dasharray="2.2 0.9" filter="url(#bl1)"/>
<ellipse cx="49.6" cy="577.5" rx="3.2" ry="2.0" fill="#62d444" filter="url(#bl1)"/>
<circle cx="99.2" cy="580.1" r="8.4" fill="#0b180a" stroke="#2f8a26" stroke-width="1.4" stroke-dasharray="2.2 0.9" filter="url(#bl1)"/>
<ellipse cx="105.6" cy="582.5" rx="1.6" ry="3.4" fill="#62d444" filter="url(#bl1)"/>
<circle cx="87.3" cy="597.9" r="8.0" fill="#0b180a" stroke="#2f8a26" stroke-width="1.4" stroke-dasharray="2.2 0.9" filter="url(#bl1)"/>
<ellipse cx="83.5" cy="602.5" rx="2.8" ry="1.8" fill="#62d444" filter="url(#bl1)"/>
<circle cx="135.4" cy="569.7" r="8.3" fill="#140405" stroke="#b8181c" stroke-width="1.4" stroke-dasharray="2.4 0.8" filter="url(#bl1)"/>
<ellipse cx="138.5" cy="577.0" rx="2.6" ry="1.8" fill="#c22a2a" filter="url(#bl1)"/>
<circle cx="187.1" cy="579.6" r="8.0" fill="#140405" stroke="#b8181c" stroke-width="1.4" stroke-dasharray="2.4 0.8" filter="url(#bl1)"/>
<ellipse cx="194.3" cy="581.8" rx="1.3" ry="2.6" fill="#c22a2a" filter="url(#bl1)"/>
<circle cx="175.4" cy="596.6" r="8.0" fill="#140405" stroke="#b8181c" stroke-width="1.4" stroke-dasharray="2.4 0.8" filter="url(#bl1)"/>
<ellipse cx="171.5" cy="600.8" rx="1.8" ry="1.3" fill="#c22a2a" filter="url(#bl1)"/>
<polygon points="54.75,630.32 49.52,635.55 42.37,633.63 40.45,626.48 45.68,621.25 52.83,623.17" fill="#4536bd" filter="url(#bl1)"/>
<circle cx="46.6" cy="627.4" r="1.6" fill="#2a208a" filter="url(#bl1)"/>
<polygon points="105.35,640.26 100.26,645.35 93.31,643.49 91.45,636.54 96.54,631.45 103.49,633.31" fill="#4536bd" filter="url(#bl1)"/>
<circle cx="97.4" cy="637.4" r="1.6" fill="#2a208a" filter="url(#bl1)"/>
<polygon points="93.85,658.06 88.76,663.15 81.81,661.29 79.95,654.34 85.04,649.25 91.99,651.11" fill="#4536bd" filter="url(#bl1)"/>
<circle cx="85.9" cy="655.2" r="1.6" fill="#2a208a" filter="url(#bl1)"/>
<circle cx="136.2" cy="628.6" r="7.8" fill="#2e3fb4" stroke="#5c9a80" stroke-width="1.2" filter="url(#bl1)"/>
<ellipse cx="138.5" cy="635.3" rx="3.0" ry="1.6" fill="#7ede4a" filter="url(#bl1)"/>
<circle cx="186.9" cy="639.4" r="7.8" fill="#2e3fb4" stroke="#5c9a80" stroke-width="1.2" filter="url(#bl1)"/>
<ellipse cx="194.0" cy="641.5" rx="1.3" ry="3.2" fill="#7ede4a" filter="url(#bl1)"/>
<circle cx="175.4" cy="656.6" r="7.5" fill="#2e3fb4" stroke="#5c9a80" stroke-width="1.2" filter="url(#bl1)"/>
<ellipse cx="172.5" cy="661.5" rx="2.0" ry="1.4" fill="#7ede4a" filter="url(#bl1)"/>
<text transform="translate(31.2,584.2) rotate(-90)" x="0" y="0" font-size="6.5" text-anchor="middle" fill="#74c060" font-weight="normal" textLength="34" lengthAdjust="spacingAndGlyphs">NBEA-A488</text>
<text transform="translate(118.6,583.7) rotate(-90)" x="0" y="0" font-size="6.5" text-anchor="middle" fill="#d4506e" font-weight="normal" textLength="38.2" lengthAdjust="spacingAndGlyphs">RCAS1-A647</text>
<text transform="translate(30.6,641.9) rotate(-90)" x="0" y="0" font-size="6.3" text-anchor="middle" fill="#3f5a96" font-weight="normal" textLength="14.2" lengthAdjust="spacingAndGlyphs">DAPI</text>
<text transform="translate(118.6,641.6) rotate(-90)" x="0" y="0" font-size="6.3" text-anchor="middle" fill="#555" font-weight="normal" textLength="22.9" lengthAdjust="spacingAndGlyphs">MERGE</text>
<line x1="171.5" y1="673.5" x2="192.8" y2="673.5" stroke="#111" stroke-width="1"/>
<text x="182.20" y="682.40" font-size="6.3" text-anchor="middle" fill="#222" font-weight="normal" font-style="normal" >10um</text>
<line x1="232.8" y1="578.5" x2="232.8" y2="649" stroke="#222" stroke-width="1"/>
<line x1="232.3" y1="649" x2="277" y2="649" stroke="#222" stroke-width="1"/>
<line x1="230.8" y1="648.50" x2="232.8" y2="648.50" stroke="#222" stroke-width="0.7"/>
<line x1="231.60000000000002" y1="641.65" x2="232.8" y2="641.65" stroke="#222" stroke-width="0.7"/>
<line x1="230.8" y1="634.80" x2="232.8" y2="634.80" stroke="#222" stroke-width="0.7"/>
<line x1="231.60000000000002" y1="627.95" x2="232.8" y2="627.95" stroke="#222" stroke-width="0.7"/>
<line x1="230.8" y1="621.10" x2="232.8" y2="621.10" stroke="#222" stroke-width="0.7"/>
<line x1="231.60000000000002" y1="614.25" x2="232.8" y2="614.25" stroke="#222" stroke-width="0.7"/>
<line x1="230.8" y1="607.40" x2="232.8" y2="607.40" stroke="#222" stroke-width="0.7"/>
<line x1="231.60000000000002" y1="600.55" x2="232.8" y2="600.55" stroke="#222" stroke-width="0.7"/>
<line x1="230.8" y1="593.70" x2="232.8" y2="593.70" stroke="#222" stroke-width="0.7"/>
<line x1="231.60000000000002" y1="586.85" x2="232.8" y2="586.85" stroke="#222" stroke-width="0.7"/>
<line x1="230.8" y1="580.00" x2="232.8" y2="580.00" stroke="#222" stroke-width="0.7"/>
<text x="229.00" y="650.60" font-size="5.9" text-anchor="end" fill="#2a2a2a" font-weight="normal" font-style="normal" >0.0</text>
<text x="229.00" y="636.90" font-size="5.9" text-anchor="end" fill="#2a2a2a" font-weight="normal" font-style="normal" >0.2</text>
<text x="229.00" y="623.20" font-size="5.9" text-anchor="end" fill="#2a2a2a" font-weight="normal" font-style="normal" >0.4</text>
<text x="229.00" y="609.50" font-size="5.9" text-anchor="end" fill="#2a2a2a" font-weight="normal" font-style="normal" >0.6</text>
<text x="229.00" y="595.80" font-size="5.9" text-anchor="end" fill="#2a2a2a" font-weight="normal" font-style="normal" >0.8</text>
<text x="229.00" y="582.10" font-size="5.9" text-anchor="end" fill="#2a2a2a" font-weight="normal" font-style="normal" >1.0</text>
<rect x="241.2" y="600.3" width="28.8" height="48.7" fill="#f7941d"/>
<line x1="255.6" y1="598.2" x2="255.6" y2="600.5" stroke="#222" stroke-width="0.8"/>
<line x1="249" y1="598.2" x2="263.4" y2="598.2" stroke="#222" stroke-width="0.9"/>
<text transform="translate(213.2,612.5) rotate(-90)" x="0" y="0" font-size="7" text-anchor="middle" fill="#2a2a2a" font-weight="bold" textLength="78.5" lengthAdjust="spacingAndGlyphs">Pearson correlation coefficient</text>
<text x="287.30" y="566.00" font-size="11" text-anchor="start" fill="#111" font-weight="bold" font-style="normal" >F</text>
<rect x="332.6" y="561.8" width="6.4" height="5.7" fill="#2ea6dd"/>
<text x="342.40" y="567.10" font-size="6.1" text-anchor="start" fill="#333" font-weight="normal" font-style="normal" ><tspan font-style="italic">Nbea</tspan><tspan font-size="3.8" dy="-2.8">+/+</tspan></text>
<rect x="370.3" y="561.8" width="6.3" height="5.7" fill="#c8102e"/>
<text x="379.30" y="567.10" font-size="6.1" text-anchor="start" fill="#333" font-weight="normal" font-style="normal" ><tspan font-style="italic">Nbea</tspan><tspan font-size="3.8" dy="-2.8">−/−</tspan></text>
<text transform="translate(294.0,609.3) rotate(-90)" x="0" y="0" font-size="7.0" text-anchor="middle" fill="#2a2a2a" font-weight="bold" textLength="45.5" lengthAdjust="spacingAndGlyphs">mRNA expression</text>
<text transform="translate(302.9,607.8) rotate(-90)" x="0" y="0" font-size="7.0" text-anchor="middle" fill="#2a2a2a" font-weight="bold" textLength="72" lengthAdjust="spacingAndGlyphs">normalized to control-shRNA</text>
<line x1="318.4" y1="569.4" x2="318.4" y2="649.6" stroke="#222" stroke-width="1"/>
<line x1="317.9" y1="649.6" x2="435" y2="649.6" stroke="#222" stroke-width="1.1"/>
<line x1="316.4" y1="649.60" x2="318.4" y2="649.60" stroke="#222" stroke-width="0.7"/>
<line x1="317.2" y1="639.80" x2="318.4" y2="639.80" stroke="#222" stroke-width="0.7"/>
<line x1="316.4" y1="630.00" x2="318.4" y2="630.00" stroke="#222" stroke-width="0.7"/>
<line x1="317.2" y1="620.20" x2="318.4" y2="620.20" stroke="#222" stroke-width="0.7"/>
<line x1="316.4" y1="610.40" x2="318.4" y2="610.40" stroke="#222" stroke-width="0.7"/>
<line x1="317.2" y1="600.60" x2="318.4" y2="600.60" stroke="#222" stroke-width="0.7"/>
<line x1="316.4" y1="590.80" x2="318.4" y2="590.80" stroke="#222" stroke-width="0.7"/>
<line x1="317.2" y1="581.00" x2="318.4" y2="581.00" stroke="#222" stroke-width="0.7"/>
<line x1="316.4" y1="571.20" x2="318.4" y2="571.20" stroke="#222" stroke-width="0.7"/>
<text x="312.20" y="651.70" font-size="5.9" text-anchor="middle" fill="#2a2a2a" font-weight="normal" font-style="normal" >0</text>
<text x="312.20" y="632.10" font-size="5.9" text-anchor="middle" fill="#2a2a2a" font-weight="normal" font-style="normal" >1</text>
<text x="312.20" y="612.50" font-size="5.9" text-anchor="middle" fill="#2a2a2a" font-weight="normal" font-style="normal" >2</text>
<text x="312.20" y="592.90" font-size="5.9" text-anchor="middle" fill="#2a2a2a" font-weight="normal" font-style="normal" >3</text>
<text x="312.20" y="573.30" font-size="5.9" text-anchor="middle" fill="#2a2a2a" font-weight="normal" font-style="normal" >4</text>
<rect x="320.50" y="630.00" width="3.9" height="19.60" fill="#2ea6dd"/>
<line x1="322.45" y1="630.00" x2="322.45" y2="627.06" stroke="#3a7fa8" stroke-width="0.9"/>
<line x1="321.10" y1="627.06" x2="323.80" y2="627.06" stroke="#3a7fa8" stroke-width="0.9"/>
<rect x="325.70" y="647.05" width="3.9" height="2.55" fill="#c8102e" rx="0.3"/>
<line x1="325.10" y1="649.6" x2="325.10" y2="651.6" stroke="#222" stroke-width="0.7"/>
<text x="325.30" y="626.80" font-size="6.2" text-anchor="middle" fill="#222" font-weight="normal" font-style="normal" >***</text>
<text transform="translate(327.70,657.8000000000001) rotate(-42)" x="0" y="0" font-size="6.3" text-anchor="end" fill="#333" font-style="italic">Gata3</text>
<rect x="337.82" y="630.00" width="3.9" height="19.60" fill="#2ea6dd"/>
<line x1="339.77" y1="630.00" x2="339.77" y2="627.06" stroke="#3a7fa8" stroke-width="0.9"/>
<line x1="338.42" y1="627.06" x2="341.12" y2="627.06" stroke="#3a7fa8" stroke-width="0.9"/>
<rect x="343.02" y="636.27" width="3.9" height="13.33" fill="#c8102e" rx="0.3"/>
<line x1="342.42" y1="649.6" x2="342.42" y2="651.6" stroke="#222" stroke-width="0.7"/>
<text x="342.62" y="626.80" font-size="6.2" text-anchor="middle" fill="#222" font-weight="normal" font-style="normal" >*</text>
<text transform="translate(345.02,657.8000000000001) rotate(-42)" x="0" y="0" font-size="6.3" text-anchor="end" fill="#333" font-style="italic">Hes1</text>
<rect x="355.14" y="630.00" width="3.9" height="19.60" fill="#2ea6dd"/>
<line x1="357.09" y1="630.00" x2="357.09" y2="627.06" stroke="#3a7fa8" stroke-width="0.9"/>
<line x1="355.74" y1="627.06" x2="358.44" y2="627.06" stroke="#3a7fa8" stroke-width="0.9"/>
<rect x="360.34" y="649.01" width="3.9" height="0.59" fill="#c8102e" rx="0.3"/>
<line x1="359.74" y1="649.6" x2="359.74" y2="651.6" stroke="#222" stroke-width="0.7"/>
<text x="359.94" y="626.80" font-size="6.2" text-anchor="middle" fill="#222" font-weight="normal" font-style="normal" >***</text>
<text transform="translate(362.34,657.8000000000001) rotate(-42)" x="0" y="0" font-size="6.3" text-anchor="end" fill="#333" font-style="italic">Cd2bp2</text>
<rect x="372.46" y="630.00" width="3.9" height="19.60" fill="#2ea6dd"/>
<line x1="374.41" y1="630.00" x2="374.41" y2="627.06" stroke="#3a7fa8" stroke-width="0.9"/>
<line x1="373.06" y1="627.06" x2="375.76" y2="627.06" stroke="#3a7fa8" stroke-width="0.9"/>
<rect x="377.66" y="647.25" width="3.9" height="2.35" fill="#c8102e" rx="0.3"/>
<line x1="377.06" y1="649.6" x2="377.06" y2="651.6" stroke="#222" stroke-width="0.7"/>
<text x="377.26" y="626.80" font-size="6.2" text-anchor="middle" fill="#222" font-weight="normal" font-style="normal" >***</text>
<text transform="translate(379.66,657.8000000000001) rotate(-42)" x="0" y="0" font-size="6.3" text-anchor="end" fill="#333" font-style="italic">Rasgrp3</text>
<rect x="389.78" y="630.00" width="3.9" height="19.60" fill="#2ea6dd"/>
<line x1="391.73" y1="630.00" x2="391.73" y2="627.06" stroke="#3a7fa8" stroke-width="0.9"/>
<line x1="390.38" y1="627.06" x2="393.08" y2="627.06" stroke="#3a7fa8" stroke-width="0.9"/>
<rect x="394.98" y="594.72" width="3.9" height="54.88" fill="#c8102e" rx="0.3"/>
<line x1="396.93" y1="594.72" x2="396.93" y2="582.96" stroke="#5a4048" stroke-width="0.9"/>
<line x1="395.78" y1="582.96" x2="398.08" y2="582.96" stroke="#5a4048" stroke-width="0.9"/>
<line x1="394.38" y1="649.6" x2="394.38" y2="651.6" stroke="#222" stroke-width="0.7"/>
<text x="394.58" y="581.60" font-size="6.2" text-anchor="middle" fill="#222" font-weight="normal" font-style="normal" >*</text>
<text transform="translate(396.98,657.8000000000001) rotate(-42)" x="0" y="0" font-size="6.3" text-anchor="end" fill="#333" font-style="italic">Cdk2</text>
<rect x="407.10" y="630.00" width="3.9" height="19.60" fill="#2ea6dd"/>
<line x1="409.05" y1="630.00" x2="409.05" y2="627.06" stroke="#3a7fa8" stroke-width="0.9"/>
<line x1="407.70" y1="627.06" x2="410.40" y2="627.06" stroke="#3a7fa8" stroke-width="0.9"/>
<rect x="412.30" y="639.21" width="3.9" height="10.39" fill="#c8102e" rx="0.3"/>
<line x1="411.70" y1="649.6" x2="411.70" y2="651.6" stroke="#222" stroke-width="0.7"/>
<text x="411.90" y="626.30" font-size="6.2" text-anchor="middle" fill="#222" font-weight="normal" font-style="normal" >*</text>
<text transform="translate(414.30,657.8000000000001) rotate(-42)" x="0" y="0" font-size="6.3" text-anchor="end" fill="#333" font-style="italic">Syne1</text>
<rect x="424.42" y="630.00" width="3.9" height="19.60" fill="#2ea6dd"/>
<line x1="426.37" y1="630.00" x2="426.37" y2="627.06" stroke="#3a7fa8" stroke-width="0.9"/>
<line x1="425.02" y1="627.06" x2="427.72" y2="627.06" stroke="#3a7fa8" stroke-width="0.9"/>
<rect x="429.62" y="616.28" width="3.9" height="33.32" fill="#c8102e" rx="0.3"/>
<line x1="431.57" y1="616.28" x2="431.57" y2="614.71" stroke="#5a4048" stroke-width="0.9"/>
<line x1="430.42" y1="614.71" x2="432.72" y2="614.71" stroke="#5a4048" stroke-width="0.9"/>
<line x1="429.02" y1="649.6" x2="429.02" y2="651.6" stroke="#222" stroke-width="0.7"/>
<text x="429.22" y="611.30" font-size="6.2" text-anchor="middle" fill="#222" font-weight="normal" font-style="normal" >***</text>
<text transform="translate(431.62,657.8000000000001) rotate(-42)" x="0" y="0" font-size="6.3" text-anchor="end" fill="#333" font-style="italic">Gpr56</text>
<rect x="0" y="0" width="520" height="1.1" fill="#5e5e5e"/><rect x="0" y="0" width="1.1" height="690" fill="#555"/><rect x="518.9" y="0" width="1.1" height="690" fill="#333"/><rect x="0" y="688.9" width="520" height="1.1" fill="#333"/>
</svg></body></html>
